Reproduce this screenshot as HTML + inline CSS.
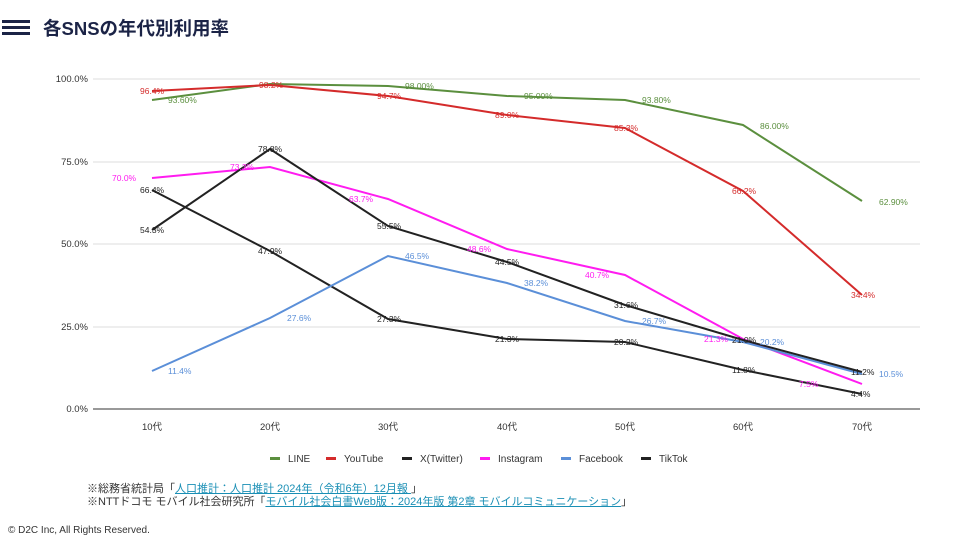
<!DOCTYPE html>
<html><head><meta charset="utf-8"><style>
body{margin:0;width:960px;height:540px;background:#fff;font-family:"Liberation Sans","Noto Sans CJK JP",sans-serif;overflow:hidden;position:relative}
.t{position:absolute;left:43px;top:15px;font-size:18.5px;font-weight:bold;color:#1b2346}
.bar{position:absolute;left:2px;width:28px;height:3px;background:#1b2346}
.n{position:absolute;font-size:11px;color:#333}
a{color:#1a8fb5;text-decoration:underline}
</style></head><body>
<div class="bar" style="top:20px"></div><div class="bar" style="top:26px"></div><div class="bar" style="top:32px"></div>
<div class="t">各SNSの年代別利用率</div>
<svg width="960" height="540" style="position:absolute;left:0;top:0" font-family="Liberation Sans, sans-serif" font-size="8.5">
<g stroke="#ddd" stroke-width="1">
<line x1="93" x2="920" y1="79" y2="79"/><line x1="93" x2="920" y1="162" y2="162"/><line x1="93" x2="920" y1="244" y2="244"/><line x1="93" x2="920" y1="327" y2="327"/></g>
<line x1="93" x2="920" y1="409" y2="409" stroke="#333"/>
<g font-size="9.5" fill="#333" text-anchor="end">
<text x="88" y="82">100.0%</text><text x="88" y="165">75.0%</text><text x="88" y="247">50.0%</text><text x="88" y="330">25.0%</text><text x="88" y="412">0.0%</text></g>
<g font-size="9.5" fill="#333" text-anchor="middle">
<text x="152" y="430">10代</text><text x="270" y="430">20代</text><text x="388" y="430">30代</text><text x="507" y="430">40代</text><text x="625" y="430">50代</text><text x="743" y="430">60代</text><text x="862" y="430">70代</text></g>
<g fill="none" stroke-width="2">
<polyline stroke="#5b8f3e" points="152,100 270,84 388,86 507,96 625,100 743,125 862,201"/>
<polyline stroke="#d42b2b" points="152,91 270,85 388,96 507,115 625,128 743,191 862,295"/>
<polyline stroke="#222" points="152,190 270,251 388,319 507,339 625,342 743,370 862,394"/>
<polyline stroke="#ff1cf0" points="152,178 270,167 388,199 507,249 625,275 743,339 862,384"/>
<polyline stroke="#5b8fd8" points="152,371 270,318 388,256 507,283 625,321 743,342 862,374"/>
<polyline stroke="#222" points="152,230 270,149 388,226 507,262 625,305 743,340 862,372"/>
</g>
<g fill="#5b8f3e"><text x="168" y="103">93.60%</text><text x="405" y="89">98.00%</text><text x="524" y="99">95.00%</text><text x="642" y="103">93.80%</text><text x="760" y="129">86.00%</text><text x="879" y="205">62.90%</text></g>
<g fill="#d42b2b"><text x="140" y="94">96.4%</text><text x="259" y="88">98.2%</text><text x="377" y="99">94.7%</text><text x="495" y="118">89.0%</text><text x="614" y="131">85.3%</text><text x="732" y="194">66.2%</text><text x="851" y="298">34.4%</text></g>
<g fill="#ff1cf0"><text x="112" y="181">70.0%</text><text x="230" y="170">73.3%</text><text x="349" y="202">63.7%</text><text x="467" y="252">48.6%</text><text x="585" y="278">40.7%</text><text x="704" y="342">21.3%</text><text x="799" y="387">7.5%</text></g>
<g fill="#5b8fd8"><text x="168" y="374">11.4%</text><text x="287" y="321">27.6%</text><text x="405" y="259">46.5%</text><text x="524" y="286">38.2%</text><text x="642" y="324">26.7%</text><text x="760" y="345">20.2%</text><text x="879" y="377">10.5%</text></g>
<g fill="#222"><text x="140" y="193">66.4%</text><text x="258" y="254">47.9%</text><text x="377" y="322">27.3%</text><text x="495" y="342">21.3%</text><text x="614" y="345">20.2%</text><text x="732" y="373">11.8%</text><text x="851" y="397">4.4%</text>
<text x="140" y="233">54.3%</text><text x="258" y="152">78.8%</text><text x="377" y="229">55.5%</text><text x="495" y="265">44.5%</text><text x="614" y="308">31.6%</text><text x="732" y="343">21.0%</text><text x="851" y="375">11.2%</text></g>
<g font-size="10" fill="#333">
<rect x="270" y="457" width="10" height="3" fill="#5b8f3e"/><text x="288" y="462">LINE</text>
<rect x="326" y="457" width="10" height="3" fill="#d42b2b"/><text x="344" y="462">YouTube</text>
<rect x="402" y="457" width="10" height="3" fill="#222"/><text x="420" y="462">X(Twitter)</text>
<rect x="480" y="457" width="10" height="3" fill="#ff1cf0"/><text x="498" y="462">Instagram</text>
<rect x="561" y="457" width="10" height="3" fill="#5b8fd8"/><text x="579" y="462">Facebook</text>
<rect x="641" y="457" width="10" height="3" fill="#222"/><text x="659" y="462">TikTok</text>
</g>
</svg>
<div class="n" style="left:87px;top:480px">※総務省統計局「<a>人口推計：人口推計 2024年（令和6年）12月報 </a>」</div>
<div class="n" style="left:87px;top:493px">※NTTドコモ モバイル社会研究所「<a>モバイル社会白書Web版：2024年版 第2章 モバイルコミュニケーション</a>」</div>
<div class="n" style="left:8px;top:525px;font-size:10px">© D2C Inc, All Rights Reserved.</div>
</body></html>
